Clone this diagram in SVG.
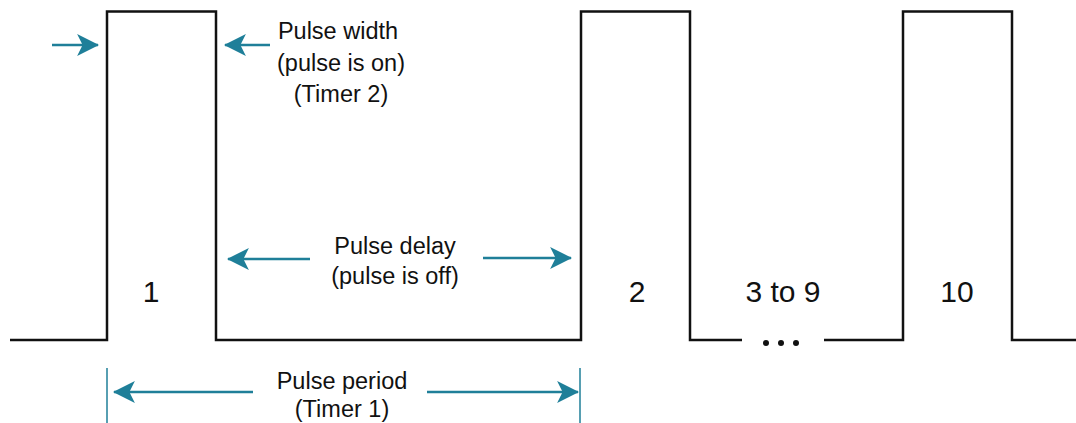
<svg xmlns="http://www.w3.org/2000/svg" width="1076" height="423" viewBox="0 0 1076 423">
<defs>
<marker id="ah" markerUnits="userSpaceOnUse" markerWidth="22" markerHeight="22" viewBox="0 0 20 20" refX="19" refY="10" orient="auto">
<path d="M0,0 L20,10 L0,20 L5,10 z" fill="#1f7f99"/>
</marker>
<style>
.wave{fill:none;stroke:#111;stroke-width:2.5;stroke-linejoin:miter}
.arr{fill:none;stroke:#1f7f99;stroke-width:2.5;marker-end:url(#ah)}
.tick{stroke:#1f7f99;stroke-width:1.5}
.lbl{font-family:"Liberation Sans",Arial,sans-serif;font-size:23.5px;fill:#111;text-anchor:middle}
.num{font-family:"Liberation Sans",Arial,sans-serif;font-size:30px;fill:#111;text-anchor:middle}
</style>
</defs>
<rect width="1076" height="423" fill="#fff"/>
<g id="waveform">
<path class="wave" d="M10,340 H107 V11.5 H216 V340 H581 V11.5 H690 V340 H742"/>
<path class="wave" d="M824,340 H903 V11.5 H1012 V340 H1076"/>
<circle cx="766" cy="343" r="3" fill="#111"/>
<circle cx="781" cy="343" r="3" fill="#111"/>
<circle cx="796" cy="343" r="3" fill="#111"/>
</g>
<g id="connectors">
<line class="arr" x1="52" y1="45" x2="98" y2="45"/>
<line class="arr" x1="270" y1="45" x2="225" y2="45"/>
<line class="arr" x1="310" y1="259" x2="228" y2="259"/>
<line class="arr" x1="483" y1="258" x2="571" y2="258"/>
<line class="arr" x1="253" y1="392" x2="114" y2="392"/>
<line class="arr" x1="427" y1="392" x2="578" y2="392"/>
<line class="tick" x1="107" y1="368" x2="107" y2="423"/>
<line class="tick" x1="580" y1="368" x2="580" y2="423"/>
</g>
<g id="label-width">
<text class="lbl" x="338" y="39">Pulse width</text>
<text class="lbl" x="341" y="71">(pulse is on)</text>
<text class="lbl" x="341" y="102">(Timer 2)</text>
</g>
<g id="label-delay">
<text class="lbl" x="395" y="254">Pulse delay</text>
<text class="lbl" x="395" y="284">(pulse is off)</text>
</g>
<g id="label-period">
<text class="lbl" x="342" y="389">Pulse period</text>
<text class="lbl" x="342" y="417">(Timer 1)</text>
</g>
<g id="pulse-1"><text class="num" x="151" y="302">1</text></g>
<g id="pulse-2"><text class="num" x="637" y="302">2</text></g>
<g id="pulse-3-9"><text class="num" x="783" y="302">3 to 9</text></g>
<g id="pulse-10"><text class="num" x="957" y="302">10</text></g>
</svg>
